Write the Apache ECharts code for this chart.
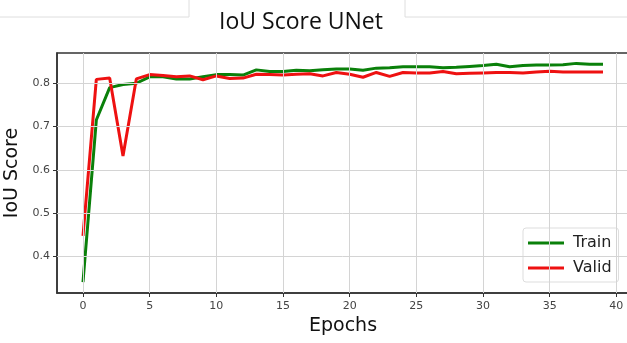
<!DOCTYPE html>
<html>
<head>
<meta charset="utf-8">
<script src="https://cdn.jsdelivr.net/npm/echarts@6/dist/echarts.min.js"></script>
<style>
  html, body { margin: 0; padding: 0; background: #fff; }
  #chart { width: 627px; height: 343px; }
</style>
</head>
<body>
<div id="chart"></div>
<script>
// IoU score per training epoch for the UNet model
const epochs = Array.from({ length: 40 }, (_, i) => i);

const trainIoU = [
  0.340, 0.715, 0.790, 0.797, 0.800, 0.815, 0.815, 0.810, 0.810, 0.815,
  0.820, 0.820, 0.819, 0.831, 0.827, 0.827, 0.830, 0.829, 0.831, 0.833,
  0.833, 0.830, 0.835, 0.836, 0.838, 0.838, 0.838, 0.836, 0.837, 0.839,
  0.841, 0.844, 0.838, 0.841, 0.842, 0.842, 0.843, 0.846, 0.844, 0.844
];

const validIoU = [
  0.447, 0.809, 0.812, 0.632, 0.810, 0.820, 0.818, 0.815, 0.817, 0.808,
  0.817, 0.811, 0.812, 0.821, 0.820, 0.819, 0.821, 0.822, 0.817, 0.825,
  0.821, 0.814, 0.825, 0.816, 0.825, 0.824, 0.824, 0.827, 0.822, 0.823,
  0.824, 0.825, 0.825, 0.824, 0.826, 0.828, 0.826, 0.826, 0.826, 0.826
];

const xTicks = [0, 5, 10, 15, 20, 25, 30, 35, 40];
const yTicks = [0.4, 0.5, 0.6, 0.7, 0.8];

const toPairs = (ys) => epochs.map((e, i) => [e, ys[i]]);

const chart = echarts.init(document.getElementById('chart'), null, { renderer: 'canvas' });

const gridLineStyle = { color: '#d4d4d4', width: 1, type: 'solid' };

chart.setOption({
  animation: false,
  backgroundColor: '#ffffff',
  title: {
    text: 'IoU Score UNet',
    left: 296,
    top: 6,
    textAlign: 'center',
    textStyle: {
      fontFamily: 'Open Sans',
      fontWeight: 'normal',
      fontSize: 23,
      color: '#111'
    }
  },
  graphic: [
    {
      type: 'polyline',
      shape: { points: [[0, 17], [189, 17], [189, 0]] },
      style: { stroke: '#dedede', lineWidth: 1, fill: null }
    },
    {
      type: 'polyline',
      shape: { points: [[405, 0], [405, 17], [627, 17]] },
      style: { stroke: '#dedede', lineWidth: 1, fill: null }
    }
  ],
  legend: {
    orient: 'vertical',
    left: 523,
    top: 228,
    padding: [7, 7, 6, 5],
    itemGap: 9,
    itemWidth: 36,
    itemHeight: 3,
    icon: 'rect',
    backgroundColor: '#ffffff',
    borderColor: '#dddddd',
    borderWidth: 1,
    borderRadius: 3,
    textStyle: { fontFamily: 'DejaVu Sans', fontSize: 16, color: '#222', padding: [0, 0, 0, 4] },
    data: ['Train', 'Valid']
  },
  grid: {
    left: 57,
    top: 53,
    width: 572,
    height: 240,
    show: true,
    borderColor: '#333',
    borderWidth: 1.5,
    containLabel: false,
    outerBoundsMode: 'none'
  },
  xAxis: {
    type: 'value',
    min: -1.95,
    max: 40.95,
    name: 'Epochs',
    nameLocation: 'middle',
    nameGap: 20,
    nameTextStyle: { fontFamily: 'DejaVu Sans', fontSize: 19, color: '#111' },
    axisLine: { show: true, onZero: false, lineStyle: { color: '#333', width: 1.5 } },
    axisTick: { show: true, length: 4, customValues: xTicks, lineStyle: { color: '#333' } },
    axisLabel: {
      customValues: xTicks,
      margin: 8,
      fontFamily: 'DejaVu Sans',
      fontSize: 11,
      color: '#444'
    },
    splitLine: { show: false }
  },
  yAxis: {
    type: 'value',
    min: 0.315,
    max: 0.87,
    name: 'IoU Score',
    nameLocation: 'middle',
    nameGap: 32,
    nameTextStyle: { fontFamily: 'DejaVu Sans', fontSize: 19, color: '#111' },
    axisLine: { show: true, onZero: false, lineStyle: { color: '#333', width: 1.5 } },
    axisTick: { show: true, length: 4, customValues: yTicks, lineStyle: { color: '#333' } },
    axisLabel: {
      customValues: yTicks,
      margin: 7,
      fontFamily: 'DejaVu Sans',
      fontSize: 11,
      color: '#444',
      formatter: (v) => v.toFixed(1)
    },
    splitLine: { show: false }
  },
  series: [
    {
      // grid lines drawn at the labelled tick positions
      name: 'gridlines',
      type: 'line',
      data: [],
      silent: true,
      markLine: {
        silent: true,
        symbol: 'none',
        label: { show: false },
        lineStyle: gridLineStyle,
        data: xTicks.map((v) => ({ xAxis: v })).concat(yTicks.map((v) => ({ yAxis: v })))
      },
      z: 1
    },
    {
      name: 'Train',
      type: 'line',
      data: toPairs(trainIoU),
      symbol: 'none',
      lineStyle: { color: '#0a800a', width: 3 },
      itemStyle: { color: '#0a800a' },
      z: 3
    },
    {
      name: 'Valid',
      type: 'line',
      data: toPairs(validIoU),
      symbol: 'none',
      lineStyle: { color: '#ee1111', width: 3 },
      itemStyle: { color: '#ee1111' },
      z: 4
    }
  ]
});
</script>
</body>
</html>
